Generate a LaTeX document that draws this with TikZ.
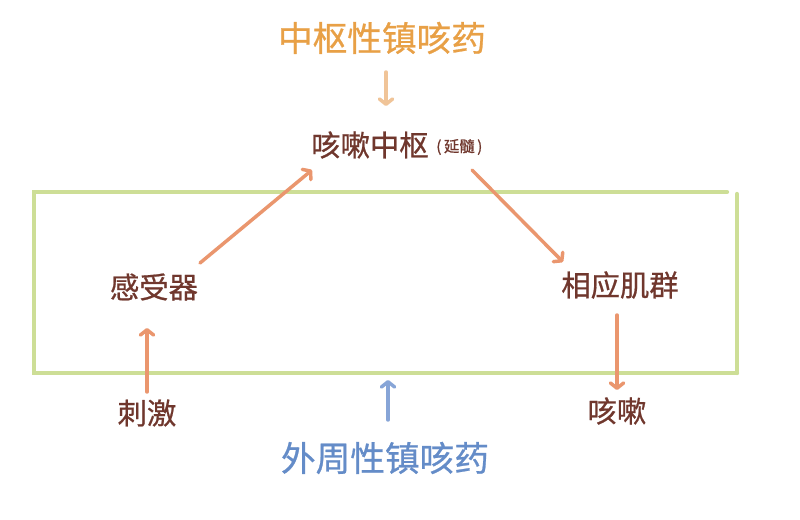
\documentclass[tikz,border=0pt]{standalone}
\usepackage{fontspec}
\newfontfamily\cjk[FakeBold=0.7]{Noto Sans CJK SC}
\usetikzlibrary{arrows.meta}
\definecolor{boxgreen}{RGB}{205,222,150}
\definecolor{titleorange}{RGB}{232,160,70}
\definecolor{peach}{RGB}{240,196,152}
\definecolor{salmon}{RGB}{234,150,110}
\definecolor{brown}{RGB}{112,55,45}
\definecolor{arrowblue}{RGB}{135,165,215}
\definecolor{textblue}{RGB}{100,140,200}
\tikzset{
  title/.style={font=\cjk\fontsize{26}{30}\selectfont, inner sep=0pt},
  label/.style={font=\cjk\fontsize{22}{25}\selectfont, text=brown, inner sep=0pt},
  small/.style={font=\cjk\fontsize{11.5}{13}\selectfont, text=brown, inner sep=0pt},
  arr/.style={line width=2.6pt, line cap=round, -{Straight Barb[length=4pt,width=10pt,line cap=round,line join=round]}},
}
\begin{document}
\begin{tikzpicture}[x=0.75pt,y=-0.75pt]
\useasboundingbox[fill=white] (0,0) rectangle (800,520);
% green box
\draw[boxgreen, line width=3.2pt, line cap=round] (727,192) -- (34,192) -- (34,373) -- (737,373);
\draw[boxgreen, line width=3.2pt, line cap=round] (737,194) -- (737,373);
% texts
\node[title, text=titleorange] (zjy) at (382,38) {中枢性镇咳药};
\node[label] (zs) at (370,145) {咳嗽中枢};
\node[small, anchor=west] (ys) at (436,147) {(\,延髓\,)};
\node[label] (gsq) at (154,287) {感受器};
\node[label] (xy) at (620,285) {相应肌群};
\node[label] (cj) at (147,413) {刺激};
\node[label] (ks) at (617,411) {咳嗽};
\node[title, text=textblue] (wzy) at (385,458) {外周性镇咳药};
% arrow endpoints
\coordinate (p1) at (386,72);
\coordinate (p2) at (386,106);
\coordinate (b1) at (388,420);
\coordinate (b2) at (388,380);
\coordinate (g1) at (200,263);
\coordinate (z1) at (312,170);
\coordinate (z2) at (472,170);
\coordinate (x1) at (563,262);
\coordinate (x2) at (617,315);
\coordinate (k1) at (617,390);
\coordinate (c1) at (147,392);
\coordinate (c2) at (147,328);
% arrows
\draw[arr, peach] (p1) -- (p2);
\draw[arr, arrowblue] (b1) -- (b2);
\draw[arr, salmon] (g1) -- (z1);
\draw[arr, salmon] (z2) -- (x1);
\draw[arr, salmon] (x2) -- (k1);
\draw[arr, salmon] (c1) -- (c2);
\end{tikzpicture}
\end{document}
